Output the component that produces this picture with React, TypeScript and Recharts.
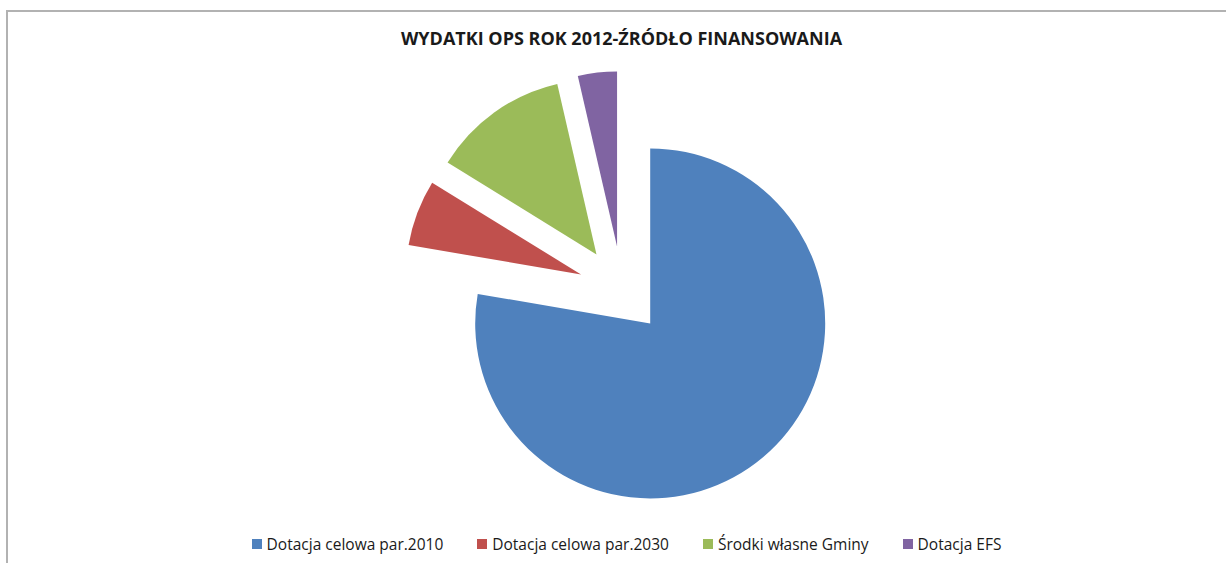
import React from 'react';
import { Cell, Legend, Pie, PieChart } from 'recharts';

// źródła finansowania (udział w %)
const SOURCES = ['Dotacja celowa par.2010', 'Dotacja celowa par.2030', 'Środki własne Gminy', 'Dotacja EFS'];
const SHARES = [77.7, 6.1, 12.6, 3.6];
const COLORS = ['#4F81BD', '#C0504D', '#9BBB59', '#8064A2'];

const TITLE = 'WYDATKI OPS ROK 2012-ŹRÓDŁO FINANSOWANIA';

const W = 1226;
const H = 563;
const RADIUS = 175;
/** odsunięcie wycinków (jak "eksplozja" w Excelu), część promienia */
const EXPLODE = 0.25;
const START_ANGLE = 90;

const data = SOURCES.map((name, i) => ({ name, value: SHARES[i] }));

// przesunięcie każdego wycinka wzdłuż jego kąta środkowego
const total = SHARES.reduce((a, b) => a + b, 0);
let acc = START_ANGLE;
const offsets = SHARES.map(v => {
  const span = (v / total) * 360;
  const mid = ((acc - span / 2) * Math.PI) / 180;
  acc -= span;
  const d = EXPLODE * RADIUS;
  return { dx: d * Math.cos(mid), dy: -d * Math.sin(mid) };
});

const FONT = '"Open Sans", "Liberation Sans", sans-serif';

function LegendContent() {
  return (
    <div
      style={{
        display: 'flex',
        justifyContent: 'center',
        alignItems: 'center',
        gap: 34,
        fontFamily: FONT,
        fontSize: 15.5,
        color: '#1a1a1a',
        paddingLeft: 27,
      }}
    >
      {SOURCES.map((s, i) => (
        <div key={s} style={{ display: 'flex', alignItems: 'center', gap: 5 }}>
          <span style={{ width: 10, height: 10, background: COLORS[i], display: 'inline-block' }} />
          <span>{s}</span>
        </div>
      ))}
    </div>
  );
}

export default function App() {
  return (
    <div style={{ position: 'absolute', left: 0, top: 0, width: W, height: H, background: '#fff' }}>
      {/* ramka wykresu: tylko góra i lewa strona widoczne */}
      <div
        style={{
          position: 'absolute',
          left: 6,
          top: 10,
          right: 0,
          bottom: 0,
          borderTop: '2px solid #b2b2b2',
          borderLeft: '2px solid #b2b2b2',
        }}
      />
      <div
        style={{
          position: 'absolute',
          left: 0,
          width: 1243,
          top: 26,
          textAlign: 'center',
          fontFamily: FONT,
          fontWeight: 700,
          fontSize: 18,
          color: '#1a1a1a',
        }}
      >
        {TITLE}
      </div>
      <PieChart
        width={W}
        height={H}
        margin={{ top: 0, right: 0, bottom: 0, left: 0 }}
        style={{ position: 'absolute', left: 0, top: 0 }}
      >
        <Pie
          data={data}
          dataKey="value"
          nameKey="name"
          cx={622}
          cy={290}
          outerRadius={RADIUS}
          startAngle={START_ANGLE}
          endAngle={START_ANGLE - 360}
          stroke="none"
          isAnimationActive={false}
        >
          {data.map((d, i) => (
            <Cell
              key={d.name}
              fill={COLORS[i]}
              transform={`translate(${offsets[i].dx}, ${offsets[i].dy})`}
            />
          ))}
        </Pie>
        <Legend
          verticalAlign="bottom"
          content={<LegendContent />}
          wrapperStyle={{ top: 533, bottom: 'auto', left: 0, width: W }}
        />
      </PieChart>
    </div>
  );
}
